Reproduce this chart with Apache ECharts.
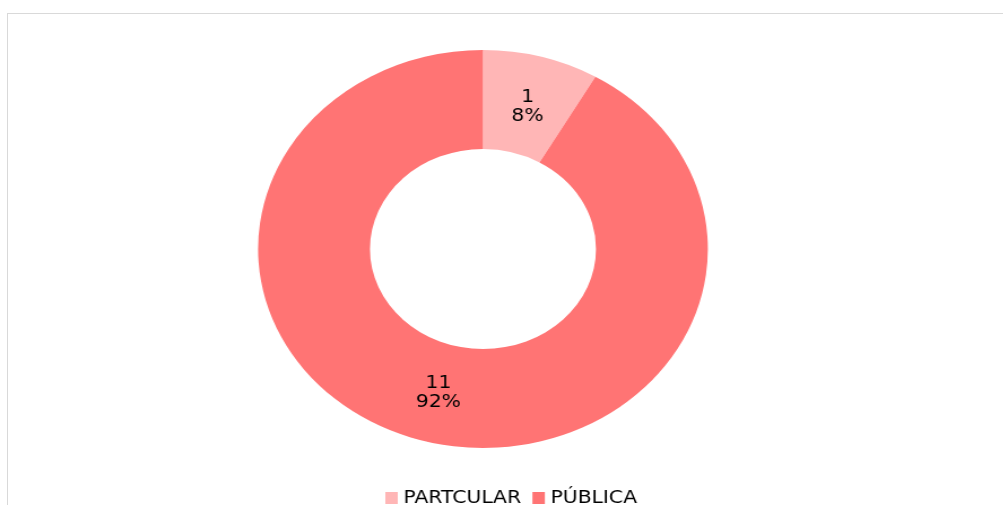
<!DOCTYPE html>
<html>
<head>
<meta charset="utf-8">
<script src="https://cdn.jsdelivr.net/npm/echarts@6/dist/echarts.min.js"></script>
<style>
  html, body { margin: 0; padding: 0; background: #fff; overflow: hidden; }
  #frame { position: absolute; left: 7px; top: 13px; width: 1010px; height: 510px; border: 1px solid #d9d9d9; }
  /* the original picture is stretched horizontally, so the chart is drawn narrower and scaled */
  #chart { position: absolute; left: 0; top: 0; width: 888px; height: 505px; transform: scaleX(1.13); transform-origin: left top; }
</style>
</head>
<body>
<div id="frame"></div>
<div id="chart"></div>
<script>
const categories = ['PARTCULAR', 'PÚBLICA'];
const values = [1, 11];
const percents = ['8%', '92%'];
const colors = ['#FFB6B6', '#FF7474'];

const chart = echarts.init(document.getElementById('chart'));
const option = {
  backgroundColor: 'transparent',
  animation: false,
  textStyle: { fontFamily: 'DejaVu Sans' },
  legend: {
    bottom: -7,
    left: 336,
    orient: 'horizontal',
    itemWidth: 11,
    itemHeight: 12,
    itemGap: 10,
    icon: 'rect',
    textStyle: { color: '#000', fontSize: 18, fontFamily: 'DejaVu Sans', padding: [0, 0, 0, 0] },
    data: categories,
  },
  series: [{
    type: 'pie',
    center: [427.4, 249],
    radius: [100, 199],
    startAngle: 90,
    clockwise: true,
    avoidLabelOverlap: false,
    itemStyle: { borderWidth: 0 },
    label: {
      show: true,
      position: 'inside',
      color: '#000',
      fontSize: 18,
      lineHeight: 19,
      fontFamily: 'DejaVu Sans',
      formatter: (p) => p.value + '\n' + percents[p.dataIndex],
    },
    // pull the labels a little toward the hole, as in the original
    labelLayout: (p) => ({ dy: p.dataIndex === 0 ? 5 : -3 }),
    labelLine: { show: false },
    emphasis: { disabled: true },
    data: categories.map((name, i) => ({
      name: name,
      value: values[i],
      itemStyle: { color: colors[i] },
    })),
  }],
};
chart.setOption(option);
</script>
</body>
</html>
